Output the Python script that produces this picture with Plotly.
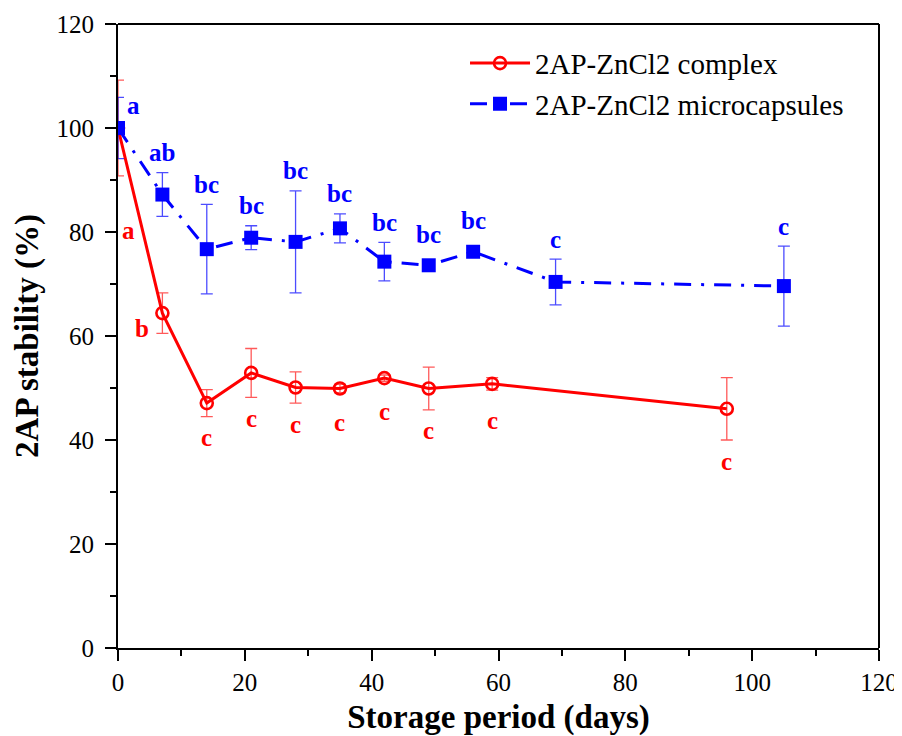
import plotly.graph_objects as go

# ---- data ----
complex_days = [0, 7, 14, 21, 28, 35, 42, 49, 59, 96]
complex_vals = [100.0, 64.4, 47.1, 52.9, 50.1, 49.9, 51.9, 49.9, 50.8, 46.0]
complex_err = [9.2, 3.9, 2.6, 4.7, 3.0, 0.8, 0.6, 4.1, 1.2, 6.0]
complex_letters = ["a", "b", "c", "c", "c", "c", "c", "c", "c", "c"]

micro_days = [0, 7, 14, 21, 28, 35, 42, 49, 56, 69, 105]
micro_vals = [100.0, 87.2, 76.7, 78.9, 78.1, 80.7, 74.3, 73.6, 76.2, 70.4, 69.6]
micro_err = [5.9, 4.2, 8.6, 2.3, 9.8, 2.8, 3.7, 1.0, 1.0, 4.4, 7.7]
micro_letters = ["a", "ab", "bc", "bc", "bc", "bc", "bc", "bc", "bc", "c", "c"]

x_ticks = [0, 20, 40, 60, 80, 100, 120]
y_ticks = [0, 20, 40, 60, 80, 100, 120]

FONT = "Liberation Serif, Times New Roman, serif"
RED = "#ff0000"
BLUE = "#0000ff"

fig = go.Figure()

fig.add_trace(go.Scatter(
    x=complex_days, y=complex_vals, mode="lines+markers",
    name="2AP-ZnCl2 complex",
    line=dict(color=RED, width=3),
    marker=dict(symbol="circle-open", size=12, color=RED, line=dict(width=2.6, color=RED)),
    error_y=dict(type="data", array=complex_err, visible=True,
                 color="rgba(255,0,0,0.65)", thickness=1.3, width=6),
))

fig.add_trace(go.Scatter(
    x=micro_days, y=micro_vals, mode="lines+markers",
    name="2AP-ZnCl2 microcapsules",
    line=dict(color=BLUE, width=3, dash="17px,10px,3px,10px"),
    marker=dict(symbol="square", size=14, color=BLUE),
    error_y=dict(type="data", array=micro_err, visible=True,
                 color="rgba(0,0,255,0.7)", thickness=1.3, width=6),
))

annots = []
# letters for microcapsules: above the upper error bar
for i, (x, v, e, t) in enumerate(zip(micro_days, micro_vals, micro_err, micro_letters)):
    xs, ys = 0, 20 + (6 if e < 1.5 else 0)
    if i == 0:
        xs, ys = 15, -8
    annots.append(dict(x=x, y=v + e, text=t, showarrow=False, xshift=xs, yshift=ys,
                       font=dict(family=FONT, size=25, color=BLUE, weight="bold")))
# letters for complex: below the lower error bar
for i, (x, v, e, t) in enumerate(zip(complex_days, complex_vals, complex_err, complex_letters)):
    xs, ys = 0, -(21 + (9 if e < 1.5 else 0))
    if i == 0:
        xs, ys = 10, -55
    elif i == 1:
        xs, ys = -20, 5
    annots.append(dict(x=x, y=v - e, text=t, showarrow=False, xshift=xs, yshift=ys,
                       font=dict(family=FONT, size=25, color=RED, weight="bold")))

fig.update_layout(
    width=894, height=728,
    margin=dict(l=110, r=23, t=16, b=88),
    paper_bgcolor="white", plot_bgcolor="white",
    font=dict(family=FONT, size=24, color="black"),
    showlegend=True,
    legend=dict(x=0.456, y=0.978, xanchor="left", yanchor="top",
                font=dict(family=FONT, size=29, color="black"),
                bgcolor="rgba(0,0,0,0)", itemwidth=60, tracegroupgap=0),
    annotations=annots,
    shapes=[
        dict(type="line", xref="paper", yref="paper", x0=0, x1=1, y0=1, y1=1,
             line=dict(color="black", width=2)),
        dict(type="line", xref="paper", yref="paper", x0=1, x1=1, y0=0, y1=1,
             line=dict(color="black", width=2)),
    ],
)

fig.update_xaxes(
    range=[0, 120], tickvals=x_ticks, ticktext=[str(v) for v in x_ticks],
    automargin=False, ticklabeloverflow="allow",
    showline=True, linecolor="black", linewidth=2, showgrid=False, zeroline=False,
    ticks="outside", ticklen=11, tickwidth=2, tickcolor="black",
    minor=dict(dtick=10, ticks="outside", ticklen=6, tickwidth=2, tickcolor="black"),
    tickfont=dict(family=FONT, size=25),
    title=dict(text="<b>Storage period (days)</b>", font=dict(family=FONT, size=33), standoff=18),
)
fig.update_yaxes(
    range=[0, 120], tickvals=y_ticks, ticktext=[str(v) for v in y_ticks],
    automargin=False,
    showline=True, linecolor="black", linewidth=2, showgrid=False, zeroline=False,
    ticks="outside", ticklen=11, tickwidth=2, tickcolor="black",
    ticklabelstandoff=6,
    minor=dict(dtick=10, ticks="outside", ticklen=6, tickwidth=2, tickcolor="black"),
    tickfont=dict(family=FONT, size=25),
    title=dict(text="<b>2AP stability (%)</b>", font=dict(family=FONT, size=33), standoff=8),
)

fig.write_html("out.html")
